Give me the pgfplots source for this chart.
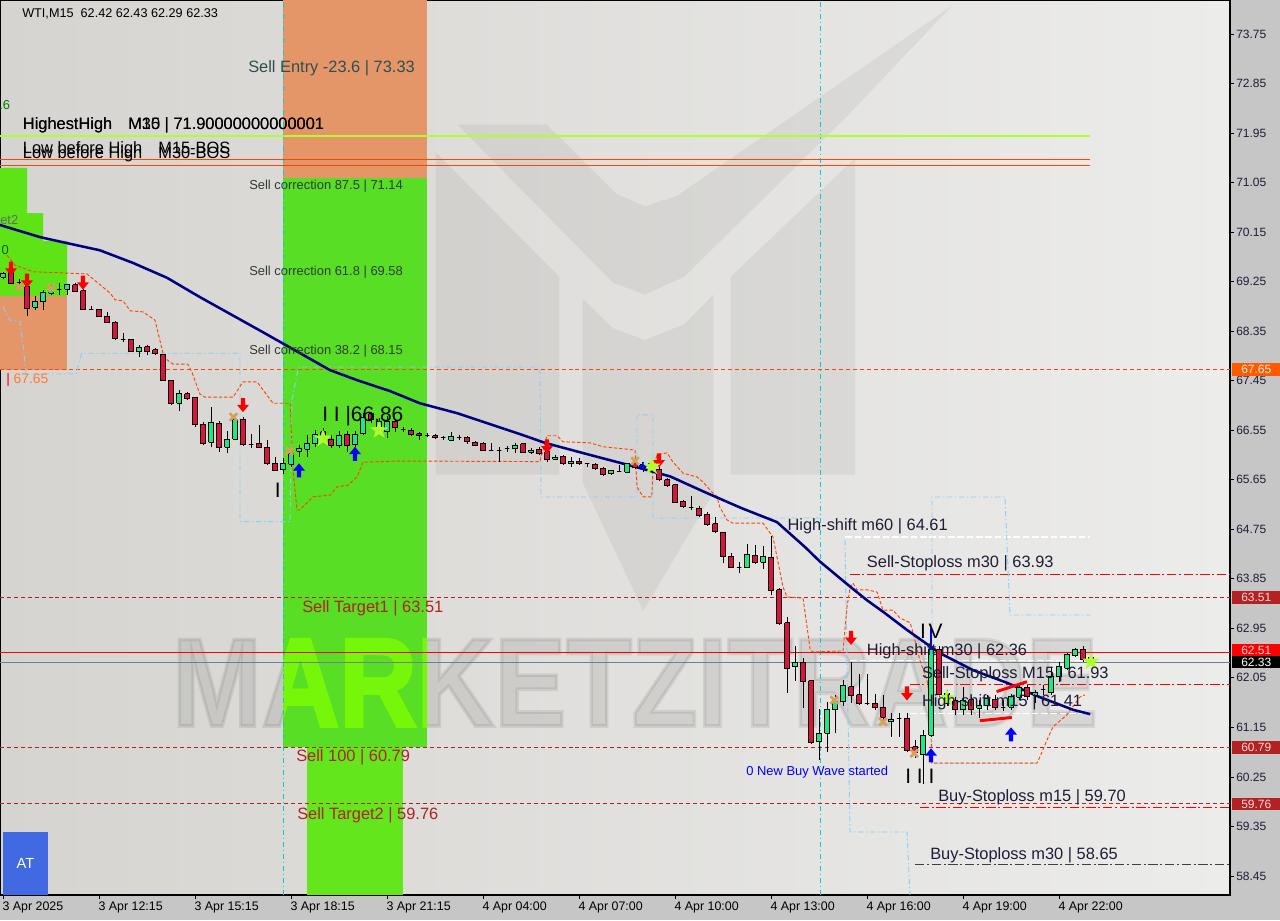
\documentclass[border=0pt]{standalone}
\usepackage{fontspec}
\setmainfont{Liberation Sans}
\newfontfamily\wmfont{Liberation Sans}[BoldFeatures={FakeBold=3}]
\usepackage{graphicx}
\usepackage{pgfplots}
\usepackage{pgfplotstable}
\pgfplotsset{compat=1.18}

\definecolor{bull}{RGB}{30,232,130}
\definecolor{bear}{RGB}{220,20,60}
\definecolor{maline}{RGB}{0,0,128}
\definecolor{zorange}{RGB}{229,150,104}
\definecolor{zgreen}{RGB}{88,222,36}
\definecolor{zgreen2}{RGB}{100,230,28}
\definecolor{lgreen}{RGB}{94,228,22}
\definecolor{wmlime}{RGB}{118,247,10}
\definecolor{ored}{RGB}{255,69,0}
\definecolor{fbrick}{RGB}{178,34,34}
\definecolor{limec}{RGB}{173,255,47}
\definecolor{skyb}{RGB}{135,206,250}
\definecolor{cyanl}{RGB}{0,206,209}
\definecolor{slatel}{RGB}{112,128,144}
\definecolor{txtdark}{RGB}{30,30,55}
\definecolor{slatetxt}{RGB}{47,79,79}
\definecolor{royal}{RGB}{65,105,225}
\definecolor{outerbg}{RGB}{198,198,198}
\definecolor{bgl}{RGB}{214,212,208}
\definecolor{bgr}{RGB}{236,236,235}
\definecolor{xmarkc}{RGB}{214,160,90}
\definecolor{orangelbl}{RGB}{255,90,0}
\definecolor{corrtxt}{RGB}{50,60,50}

\pgfdeclareplotmark{darrow}{%
 \pgfpathmoveto{\pgfqpoint{-1.6pt}{5.5pt}}%
 \pgfpathlineto{\pgfqpoint{1.6pt}{5.5pt}}%
 \pgfpathlineto{\pgfqpoint{1.6pt}{0.5pt}}%
 \pgfpathlineto{\pgfqpoint{4.5pt}{0.5pt}}%
 \pgfpathlineto{\pgfqpoint{0pt}{-5pt}}%
 \pgfpathlineto{\pgfqpoint{-4.5pt}{0.5pt}}%
 \pgfpathlineto{\pgfqpoint{-1.6pt}{0.5pt}}%
 \pgfpathclose\pgfusepathqfill}
\pgfdeclareplotmark{uarrow}{%
 \pgfpathmoveto{\pgfqpoint{-1.6pt}{-5.5pt}}%
 \pgfpathlineto{\pgfqpoint{1.6pt}{-5.5pt}}%
 \pgfpathlineto{\pgfqpoint{1.6pt}{-0.5pt}}%
 \pgfpathlineto{\pgfqpoint{4.5pt}{-0.5pt}}%
 \pgfpathlineto{\pgfqpoint{0pt}{5pt}}%
 \pgfpathlineto{\pgfqpoint{-4.5pt}{-0.5pt}}%
 \pgfpathlineto{\pgfqpoint{-1.6pt}{-0.5pt}}%
 \pgfpathclose\pgfusepathqfill}
\pgfdeclareplotmark{fstar}{%
 \pgfpathmoveto{\pgfqpoint{0pt}{7pt}}%
 \pgfpathlineto{\pgfqpoint{-1.646pt}{2.265pt}}%
 \pgfpathlineto{\pgfqpoint{-6.657pt}{2.163pt}}%
 \pgfpathlineto{\pgfqpoint{-2.663pt}{-0.865pt}}%
 \pgfpathlineto{\pgfqpoint{-4.114pt}{-5.663pt}}%
 \pgfpathlineto{\pgfqpoint{0pt}{-2.8pt}}%
 \pgfpathlineto{\pgfqpoint{4.114pt}{-5.663pt}}%
 \pgfpathlineto{\pgfqpoint{2.663pt}{-0.865pt}}%
 \pgfpathlineto{\pgfqpoint{6.657pt}{2.163pt}}%
 \pgfpathlineto{\pgfqpoint{1.646pt}{2.265pt}}%
 \pgfpathclose\pgfusepathqfill}

\newcommand\fA{\fontsize{12.3}{14}\selectfont}
\newcommand\fB{\fontsize{9.7}{11}\selectfont}
\newcommand\fC{\fontsize{15.7}{18}\selectfont}
\newcommand\fT{\fontsize{9.5}{11}\selectfont}

\pgfplotstableread{
i O H L C
0 69.33 69.43 69.30 69.39
1 69.47 69.52 69.21 69.22
2 69.24 69.30 69.19 69.24
3 69.16 69.28 68.63 68.77
4 68.78 68.98 68.73 68.88
5 68.88 69.09 68.73 69.05
6 69.04 69.19 69.01 69.10
7 69.11 69.22 69.01 69.11
8 69.11 69.21 69.01 69.19
9 69.19 69.23 69.06 69.07
10 69.08 69.19 68.73 68.75
11 68.75 68.81 68.73 68.75
12 68.75 68.75 68.61 68.62
13 68.62 68.70 68.49 68.51
14 68.51 68.53 68.19 68.21
15 68.20 68.31 68.16 68.20
16 68.20 68.21 67.97 67.98
17 67.98 68.10 67.88 68.06
18 68.07 68.10 67.91 67.98
19 68.01 68.04 67.91 67.94
20 67.93 67.94 67.46 67.46
21 67.46 67.46 67.01 67.04
22 67.04 67.28 66.90 67.22
23 67.21 67.25 67.09 67.13
24 67.15 67.15 66.61 66.66
25 66.66 66.70 66.28 66.31
26 66.33 66.97 66.24 66.69
27 66.68 66.72 66.16 66.24
28 66.24 66.54 66.13 66.39
29 66.39 66.77 66.37 66.74
30 66.75 66.79 66.26 66.29
31 66.29 66.49 66.22 66.29
32 66.31 66.65 66.24 66.24
33 66.24 66.37 65.92 65.95
34 65.95 66.06 65.82 65.82
35 65.83 66.04 65.75 65.95
36 65.93 66.16 65.89 66.12
37 66.17 66.28 66.07 66.21
38 66.20 66.46 66.07 66.31
39 66.30 66.55 66.25 66.48
40 66.52 66.59 66.34 66.41
41 66.39 66.46 66.22 66.28
42 66.27 66.54 66.22 66.46
43 66.48 66.54 66.16 66.28
44 66.29 66.54 66.25 66.48
45 66.49 66.86 66.46 66.79
46 66.85 66.89 66.68 66.74
47 66.55 66.77 66.52 66.70
48 66.52 66.80 66.40 66.71
49 66.71 66.75 66.52 66.60
50 66.57 66.60 66.52 66.57
51 66.55 66.59 66.44 66.48
52 66.49 66.52 66.37 66.45
53 66.46 66.50 66.43 66.46
54 66.45 66.48 66.39 66.41
55 66.41 66.44 66.37 66.41
56 66.37 66.52 66.37 66.43
57 66.42 66.47 66.37 66.42
58 66.42 66.44 66.30 66.34
59 66.33 66.35 66.26 66.28
60 66.31 66.34 66.17 66.19
61 66.18 66.32 66.18 66.18
62 66.19 66.25 65.97 66.19
63 66.21 66.26 66.16 66.21
64 66.21 66.31 66.13 66.28
65 66.30 66.31 66.13 66.15
66 66.15 66.23 66.12 66.19
67 66.20 66.25 66.10 66.13
68 66.16 66.26 65.98 66.02
69 66.02 66.10 66.01 66.06
70 66.08 66.10 65.92 65.95
71 65.94 66.06 65.89 65.99
72 65.99 66.04 65.92 65.95
73 65.95 65.96 65.89 65.95
74 65.93 65.95 65.83 65.85
75 65.86 65.89 65.72 65.74
76 65.76 65.83 65.74 65.81
77 65.80 65.92 65.80 65.80
78 65.79 65.96 65.78 65.95
79 65.94 65.99 65.85 65.88
80 65.88 65.97 65.79 65.92
81 65.85 66.01 65.81 65.94
82 65.84 65.89 65.62 65.65
83 65.65 65.68 65.52 65.54
84 65.56 65.57 65.23 65.24
85 65.26 65.28 65.14 65.16
86 65.14 65.36 65.10 65.14
87 65.13 65.17 64.98 65.00
88 65.02 65.07 64.81 64.83
89 64.85 64.97 64.68 64.71
90 64.70 64.70 64.13 64.25
91 64.26 64.31 64.04 64.05
92 64.06 64.16 63.95 64.06
93 64.05 64.48 64.04 64.30
94 64.28 64.46 64.12 64.14
95 64.15 64.45 64.02 64.25
96 64.24 64.62 63.55 63.63
97 63.65 63.68 63.01 63.03
98 63.05 63.16 61.78 62.22
99 62.25 62.62 62.00 62.32
100 62.33 62.41 61.50 61.98
101 62.00 62.01 60.85 60.88
102 60.89 61.48 60.56 61.04
103 61.04 61.62 60.71 61.48
104 61.47 61.74 61.04 61.62
105 61.62 62.02 61.53 61.91
106 61.89 62.34 61.59 61.73
107 61.74 62.12 61.55 61.59
108 61.58 62.12 61.55 61.58
109 61.59 61.76 61.47 61.52
110 61.52 61.74 61.28 61.33
111 61.25 61.41 60.98 61.30
112 61.32 61.41 60.98 61.32
113 61.32 61.41 60.71 60.73
114 60.80 60.92 60.59 60.69
115 60.65 61.10 60.13 61.01
116 61.01 62.95 60.98 62.56
117 62.56 62.62 61.71 61.75
118 61.59 61.83 61.54 61.77
119 61.63 61.71 61.38 61.47
120 61.47 61.88 61.38 61.63
121 61.65 61.71 61.38 61.48
122 61.50 61.65 61.32 61.54
123 61.54 61.74 61.47 61.68
124 61.66 61.74 61.47 61.52
125 61.52 61.65 61.45 61.52
126 61.52 61.76 61.47 61.71
127 61.70 61.92 61.65 61.88
128 61.88 61.92 61.65 61.71
129 61.73 61.83 61.59 61.78
130 61.83 61.92 61.74 61.83
131 61.78 62.25 61.74 62.08
132 62.07 62.34 61.98 62.25
133 62.22 62.50 62.19 62.47
134 62.45 62.59 62.43 62.56
135 62.57 62.62 62.34 62.39
136 62.42 62.43 62.29 62.33
}\candles
\pgfplotstablegetrowsof{\candles}
\pgfmathtruncatemacro\lastrow{\pgfplotsretval-1}

\begin{document}
\begin{tikzpicture}
\fill[outerbg] (0,0) rectangle (960pt,690pt);
\begin{axis}[
  at={(0pt,18.75pt)}, anchor=south west,
  scale only axis, width=922.5pt, height=671.25pt,
  xmin=-0.375, xmax=153.375, ymin=58.104, ymax=74.368,
  axis line style={black, line width=0.8pt},
  axis background/.style={left color=bgl, right color=bgr},
  clip mode=individual,
  xtick={0,12,24,36,48,60,72,84,96,108,120,132},
  xticklabels={3 Apr 2025,3 Apr 12:15,3 Apr 15:15,3 Apr 18:15,3 Apr 21:15,4 Apr 04:00,4 Apr 07:00,4 Apr 10:00,4 Apr 13:00,4 Apr 16:00,4 Apr 19:00,4 Apr 22:00},
  xtick pos=bottom, ytick pos=right, yticklabel pos=right,
  tick align=outside, major tick length=3pt,
  tick style={black, line width=0.6pt},
  xticklabel style={anchor=north west, xshift=-1.5pt, yshift=-1pt, font=\fontsize{9.3}{10}\selectfont, text=black, inner sep=1pt},
  ytick={58.45,59.35,60.25,61.15,62.05,62.95,63.85,64.75,65.65,66.55,67.45,68.35,69.25,70.15,71.05,71.95,72.85,73.75},
  yticklabels={58.45,59.35,60.25,61.15,62.05,62.95,63.85,64.75,65.65,66.55,67.45,68.35,69.25,70.15,71.05,71.95,72.85,73.75},
  yticklabel style={font=\fontsize{9}{10}\selectfont, text=txtdark, inner sep=1.5pt},
]
% ---- zones
\addplot[fill=zorange, draw=none] coordinates {(35,71.14) (53,71.14) (53,74.368) (35,74.368)};
\addplot[fill=zgreen, draw=none] coordinates {(35,60.79) (53,60.79) (53,71.14) (35,71.14)};
\addplot[fill=zgreen2, draw=none] coordinates {(38,58.104) (50,58.104) (50,60.79) (38,60.79)};
\addplot[fill=lgreen, draw=none] coordinates {(-0.375,71.315) (3,71.315) (3,70.497) (5,70.497) (5,69.989) (8,69.989) (8,68.989) (-0.375,68.989)};
\addplot[fill=zorange, draw=none] coordinates {(-0.375,68.989) (8,68.989) (8,67.644) (-0.375,67.644)};
% ---- logo watermark
\addplot[fill=black, fill opacity=0.05, draw=none] coordinates {(54.1,71.60) (69.54,69.338) (69.54,65.745) (54.1,65.745)};
\addplot[fill=black, fill opacity=0.05, draw=none] coordinates {(90.96,69.338) (106.5,71.493) (106.5,65.745) (90.96,65.745)};
\addplot[fill=black, fill opacity=0.05, draw=none] coordinates {(72.44,68.94) (76.24,68.404) (80.25,68.188) (85.16,68.477) (88.83,69.015) (88.83,65.422) (80.03,63.267) (72.44,65.602)};
\addplot[fill=black, fill opacity=0.05, draw=none] coordinates {(56.8,72.104) (67.97,72.104) (76.68,70.846) (80.25,70.617) (84.26,70.81) (118.6,74.26) (105.7,72.284) (85.16,69.338) (80.25,69.015) (76.24,69.231)};
% ---- text watermark
\node[anchor=base west, inner sep=0pt, text=black, text opacity=0.08] at (axis cs:21.1,61.175) {\scalebox{0.855}[1]{\wmfont\bfseries\fontsize{94.3}{95}\selectfont MARKETZITRADE}};
\begin{scope}
\clip (axis cs:35,60.79) rectangle (axis cs:53,71.14);
\node[anchor=base west, inner sep=0pt, text=wmlime] at (axis cs:21.1,61.175) {\scalebox{0.855}[1]{\wmfont\bfseries\fontsize{94.3}{95}\selectfont MARKETZITRADE}};
\end{scope}
% ---- vertical lines
\addplot[cyanl, line width=0.7pt, dash pattern=on 4pt off 2pt on 1pt off 2pt] coordinates {(35,58.104) (35,74.368)};
\addplot[cyanl, line width=0.7pt, dash pattern=on 4pt off 2pt on 1pt off 2pt] coordinates {(102.125,58.104) (102.125,74.368)};
% ---- horizontal levels
\addplot[limec, line width=1.1pt] coordinates {(-0.375,71.90) (135.9,71.90)};
\addplot[ored, line width=0.9pt] coordinates {(-0.375,71.473) (135.9,71.473)};
\addplot[ored, line width=0.9pt] coordinates {(-0.375,71.364) (135.9,71.364)};
\addplot[ored, line width=0.7pt, dash pattern=on 3pt off 2.2pt] coordinates {(-0.375,67.65) (153.375,67.65)};
\addplot[red, line width=0.8pt, dash pattern=on 7pt off 2pt on 1.5pt off 2pt] coordinates {(105.9,63.93) (153.375,63.93)};
\addplot[fbrick, line width=0.7pt, dash pattern=on 3pt off 2.2pt] coordinates {(-0.375,63.51) (153.375,63.51)};
\addplot[red, line width=0.8pt] coordinates {(-0.375,62.51) (153.375,62.51)};
\addplot[slatel, line width=0.8pt] coordinates {(-0.375,62.33) (153.375,62.33)};
\addplot[white, line width=0.8pt, dash pattern=on 5pt off 2pt] coordinates {(105.3,64.61) (135.9,64.61)};
\addplot[white, line width=0.8pt, dash pattern=on 5pt off 2pt] coordinates {(105.9,62.36) (135.9,62.36)};
\addplot[red, line width=0.8pt, dash pattern=on 7pt off 2pt on 1.5pt off 2pt] coordinates {(113.4,61.93) (153.375,61.93)};
\addplot[white, line width=0.8pt, dash pattern=on 5pt off 2pt] coordinates {(113.4,61.41) (135.9,61.41)};
\addplot[fbrick, line width=0.7pt, dash pattern=on 3pt off 2.2pt] coordinates {(-0.375,60.79) (153.375,60.79)};
\addplot[red, line width=0.8pt, dash pattern=on 7pt off 2pt on 1.5pt off 2pt] coordinates {(114.6,59.70) (153.375,59.70)};
\addplot[fbrick, line width=0.7pt, dash pattern=on 3pt off 2.2pt] coordinates {(-0.375,59.76) (153.375,59.76)};
\addplot[black!75, line width=0.7pt, dash pattern=on 7pt off 2pt on 1.5pt off 2pt] coordinates {(114,58.65) (153.375,58.65)};
% ---- light blue channels
\addplot[skyb, line width=0.7pt, dash pattern=on 4pt off 2pt on 1pt off 2pt] coordinates {(0,68.795) (0.875,68.553) (2.125,68.522) (2.54,68.068) (2.875,67.572) (9.125,67.572) (9.84,67.948) (29.625,67.948) (29.625,64.888) (35.875,64.888) (36.125,67.099) (36.875,67.644) (37.125,67.699) (67.125,67.699) (67.25,65.336) (79.25,65.336) (79.25,66.83) (81.25,66.83) (81.25,64.955) (102.125,64.955)};
\addplot[skyb, line width=0.7pt, dash pattern=on 4pt off 2pt on 1pt off 2pt] coordinates {(105.25,64.555) (105.875,59.249) (113,59.249) (113.375,58.104)};
\addplot[skyb, line width=0.7pt, dash pattern=on 4pt off 2pt on 1pt off 2pt] coordinates {(129,60.503) (116.125,60.503) (116.125,65.336) (125.25,65.336) (125.875,63.192) (135.875,63.192)};
% ---- orange band
\addplot[ored, line width=0.7pt, dash pattern=on 2.5pt off 1.5pt] coordinates {(0.5,69.73) (1.5,69.55) (3.75,69.43) (10.5,69.39) (11.75,69.24) (13.4,69.04) (14,68.92) (15,68.90) (15.9,68.72) (17.5,68.70) (19,68.55) (19.6,68.19) (20,67.95) (20.5,67.83) (21.25,67.75) (23.1,67.75) (23.6,67.61) (24.6,67.21) (25.25,67.15) (28.75,67.15) (30,67.43) (31.75,67.43) (33.75,67.04) (35.9,67.04) (36.25,65.83) (36.75,65.10) (37.1,65.10) (38.75,65.34) (40.9,65.37) (41.75,65.52) (43.1,65.55) (44.25,65.70) (45,65.97) (49.6,65.99) (67.1,65.98) (68,66.45) (69.25,66.45) (70,66.34) (73.4,66.32) (75,66.25) (79,66.19) (79.25,65.52) (80,65.34) (81.1,65.34) (81.25,65.88) (81.75,66.10) (83,66.14) (83.75,65.97) (85,65.77) (86.75,65.70) (87.5,65.61) (88.4,65.46) (89.25,65.34) (89.6,65.155) (90.5,64.92) (91.25,64.86) (95,64.86) (96.25,64.61) (97.5,63.70) (98,63.52) (100,63.50) (100.9,62.56) (101.25,62.52) (105,62.54) (105.5,63.338) (105.9,63.70) (106.25,63.77) (106.75,63.65) (108,63.65) (109.25,63.61) (110,63.28) (111.25,63.28) (112.1,63.14) (113.4,63.05) (113.75,62.87) (114.6,62.375) (115.5,62.01) (115.9,61.65) (116.1,60.50) (129.25,60.50) (129.6,60.61) (130.5,60.92) (131.25,61.16) (133,61.38) (134.6,61.70) (135.25,61.74)};
% ---- moving average
\addplot[maline, line width=1.9pt] coordinates {(-0.4,70.28) (4.6,70.06) (8,69.95) (12.1,69.82) (16.25,69.59) (20.5,69.32) (24.6,68.97) (32.75,68.31) (40.9,67.64) (44.25,67.46) (48.4,67.26) (52.1,67.04) (56.75,66.86) (65,66.46) (67.75,66.32) (73.4,66.10) (78.9,65.89) (83.4,65.71) (87.8,65.42) (92.3,65.135) (96.75,64.88) (100.3,64.42) (102.1,64.165) (105.7,63.73) (108,63.46) (110.2,63.23) (113,62.92) (117.1,62.50) (121.25,62.19) (125.5,61.96) (129.6,61.70) (133.75,61.47) (135.9,61.39)};
% ---- candles
\pgfplotsinvokeforeach{0,...,\lastrow}{%
 \pgfplotstablegetelem{#1}{i}\of\candles\edef\ci{\pgfplotsretval}%
 \pgfplotstablegetelem{#1}{O}\of\candles\edef\co{\pgfplotsretval}%
 \pgfplotstablegetelem{#1}{H}\of\candles\edef\ch{\pgfplotsretval}%
 \pgfplotstablegetelem{#1}{L}\of\candles\edef\cl{\pgfplotsretval}%
 \pgfplotstablegetelem{#1}{C}\of\candles\edef\cc{\pgfplotsretval}%
 \pgfmathsetmacro\xa{\ci-0.31}%
 \pgfmathsetmacro\xb{\ci+0.31}%
 \ifdim\cc pt>\co pt\def\bc{bull}\else\def\bc{bear}\fi
 \edef\temp{\noexpand\addplot[black,line width=0.75pt] coordinates {(\ci,\cl) (\ci,\ch)};%
   \noexpand\addplot[draw=black,line width=0.75pt,fill=\bc] coordinates {(\xa,\co) (\xb,\co) (\xb,\cc) (\xa,\cc) (\xa,\co)};}%
 \temp
}
% ---- extra segments
\addplot[red, line width=2.2pt] coordinates {(124.2,61.80) (128,61.98)};
\addplot[red, line width=2.2pt] coordinates {(122.1,61.27) (126.1,61.33)};
\addplot[blue, line width=1.2pt] coordinates {(116,62.95) (116,62.56)};
% ---- markers
\addplot[only marks, mark=darrow, red] coordinates {(1,69.48) (3,69.26) (10,69.225) (30,67.00) (68,66.25) (82,65.996) (106,62.77) (113,61.76)};
\addplot[only marks, mark=uarrow, blue] coordinates {(37,65.827) (44,66.127) (116,60.648) (126,61.03)};
\addplot[only marks, mark=+, blue, mark size=3pt, line width=1.5pt] coordinates {(80,65.90)};
\addplot[only marks, mark=x, xmarkc, mark size=4pt, line width=2pt] coordinates {(2,69.16) (6,69.14) (28.8,66.79) (35.8,66.17) (79,65.99) (103.9,61.647) (110,61.253) (113.9,60.68)};
\addplot[only marks, mark=fstar, limec] coordinates {(40,66.40) (47,66.55) (81.1,65.89) (118,61.68) (136,62.344)};
% ---- texts
\node[anchor=base west, inner sep=0pt, font=\fT, text=black] at (axis cs:2.375,74.054) {WTI,M15\ \ 62.42 62.43 62.29 62.33};
\node[anchor=base west, inner sep=0pt, font=\fA, text=slatetxt] at (axis cs:30.625,73.047) {Sell Entry -23.6 | 73.33};
\node[anchor=base west, inner sep=0pt, font=\fB, text=green!50!black] at (axis cs:-0.5,72.369) {.6};
\node[anchor=base west, inner sep=0pt, font=\fA, text=black] at (axis cs:2.46,72.006) {HighestHigh\hspace{12pt}M30 | 71.90000000000001};
\node[anchor=base west, inner sep=0pt, font=\fA, text=black] at (axis cs:2.46,72.006) {HighestHigh\hspace{12pt}M15 | 71.90000000000001};
\node[anchor=base west, inner sep=0pt, font=\fA, text=black] at (axis cs:2.46,71.582) {Low before High\hspace{12pt}M15-BOS};
\node[anchor=base west, inner sep=0pt, font=\fA, text=black] at (axis cs:2.46,71.491) {Low before High\hspace{12pt}M30-BOS};
\node[anchor=base west, inner sep=0pt, font=\fB, text=corrtxt] at (axis cs:30.75,70.923) {Sell correction 87.5 | 71.14};
\node[anchor=base west, inner sep=0pt, font=\fB, text=corrtxt] at (axis cs:30.75,69.36) {Sell correction 61.8 | 69.58};
\node[anchor=base west, inner sep=0pt, font=\fB, text=corrtxt] at (axis cs:30.75,67.924) {Sell correction 38.2 | 68.15};
\node[anchor=base west, inner sep=0pt, font=\fB, text=black!60] at (axis cs:-0.375,70.288) {et2};
\node[anchor=base west, inner sep=0pt, font=\fB, text=green!40!black] at (axis cs:-0.2,69.743) {0};
\node[anchor=base west, inner sep=0pt, font=\fontsize{10.4}{12}\selectfont, text=orangelbl!80!white] at (axis cs:0.375,67.39) {\textcolor{red}{|} 67.65};
\node[anchor=base west, inner sep=0pt, font=\fC, text=black] at (axis cs:39.875,66.705) {I I |66.86};
\node[anchor=base west, inner sep=0pt, font=\fC, text=black] at (axis cs:33.94,65.324) {I};
\node[anchor=base west, inner sep=0pt, font=\fA, text=txtdark] at (axis cs:98.04,64.724) {High-shift m60 | 64.61};
\node[anchor=base west, inner sep=0pt, font=\fA, text=txtdark] at (axis cs:107.96,64.059) {Sell-Stoploss m30 | 63.93};
\node[anchor=base west, inner sep=0pt, font=\fA, text=fbrick] at (axis cs:37.375,63.24) {Sell Target1 | 63.51};
\node[anchor=base west, inner sep=0pt, font=\fA, text=txtdark] at (axis cs:107.96,62.465) {High-shift m30 | 62.36};
\node[anchor=base west, inner sep=0pt, font=\fC, text=black] at (axis cs:114.6,62.769) {I\hspace{2pt}V};
\node[anchor=base west, inner sep=0pt, font=\fA, text=txtdark] at (axis cs:114.84,62.042) {Sell-Stoploss M15 | 61.93};
\node[anchor=base west, inner sep=0pt, font=\fA, text=txtdark] at (axis cs:114.84,61.526) {High-shift m15 | 61.41};
\node[anchor=base west, inner sep=0pt, font=\fA, text=fbrick] at (axis cs:36.625,60.521) {Sell 100 | 60.79};
\node[anchor=base west, inner sep=0pt, font=\fB, text=blue] at (axis cs:92.875,60.274) {0 New Buy Wave started};
\node[anchor=base west, inner sep=0pt, font=\fC, text=black] at (axis cs:112.75,60.134) {I I I};
\node[anchor=base west, inner sep=0pt, font=\fA, text=txtdark] at (axis cs:116.875,59.812) {Buy-Stoploss m15 | 59.70};
\node[anchor=base west, inner sep=0pt, font=\fA, text=fbrick] at (axis cs:36.75,59.485) {Sell Target2 | 59.76};
\node[anchor=base west, inner sep=0pt, font=\fA, text=txtdark] at (axis cs:115.875,58.758) {Buy-Stoploss m30 | 58.65};
% ---- AT box
\addplot[fill=royal, draw=none] coordinates {(0,58.104) (5.625,58.104) (5.625,59.25) (0,59.25)};
\node[font=\fontsize{11}{12}\selectfont, text=white] at (axis cs:2.8,58.68) {AT};
% ---- right price boxes
\node[anchor=west, xshift=1.5pt, fill=orangelbl, text=white!90!orange, inner sep=0pt, minimum width=36pt, minimum height=9.5pt, font=\fontsize{9}{10}\selectfont] at (axis cs:153.375,67.65) {67.65};
\node[anchor=west, xshift=1.5pt, fill=fbrick, text=white!85!red, inner sep=0pt, minimum width=36pt, minimum height=9.5pt, font=\fontsize{9}{10}\selectfont] at (axis cs:153.375,63.51) {63.51};
\node[anchor=west, xshift=1.5pt, fill=red, text=white!85!red, inner sep=0pt, minimum width=36pt, minimum height=9pt, font=\fontsize{9}{10}\selectfont] at (axis cs:153.375,62.55) {62.51};
\node[anchor=west, xshift=1.5pt, fill=black, text=white, inner sep=0pt, minimum width=36pt, minimum height=9pt, font=\fontsize{9}{10}\selectfont] at (axis cs:153.375,62.33) {62.33};
\node[anchor=west, xshift=1.5pt, fill=fbrick, text=white!85!red, inner sep=0pt, minimum width=36pt, minimum height=9.5pt, font=\fontsize{9}{10}\selectfont] at (axis cs:153.375,60.79) {60.79};
\node[anchor=west, xshift=1.5pt, fill=fbrick, text=white!85!red, inner sep=0pt, minimum width=36pt, minimum height=9.5pt, font=\fontsize{9}{10}\selectfont] at (axis cs:153.375,59.76) {59.76};
\end{axis}
\pgfresetboundingbox
\useasboundingbox (0,0) rectangle (960pt,690pt);
\end{tikzpicture}
\end{document}
